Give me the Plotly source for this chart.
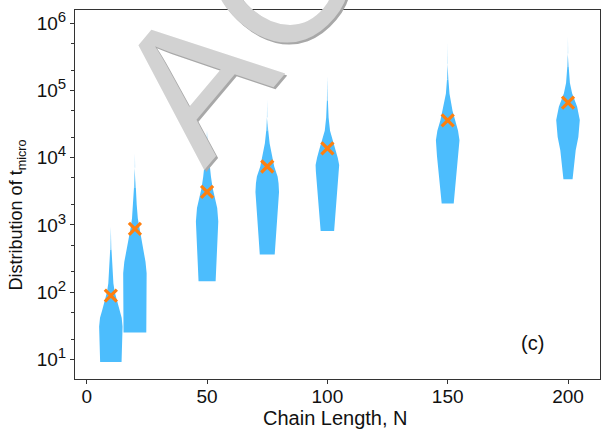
import plotly.graph_objects as go

# ---------------- data ----------------
chain_lengths = [10, 20, 50, 75, 100, 150, 200]
mean_values = [89, 870, 3100, 7400, 13800, 36000, 66000]

# violin outlines: log10(t) levels and half-widths (x units)
profile_logs = [
    [0.96, 1.49, 1.62, 1.73, 1.88, 2.0, 2.13, 2.33, 2.63, 2.97],
    [1.40, 1.8, 2.28, 2.45, 2.6, 2.75, 2.95, 3.1, 3.3, 3.55, 3.85, 4.07],
    [2.16, 2.6, 2.85, 3.05, 3.25, 3.4, 3.55, 3.72, 3.92, 4.11, 4.4],
    [2.56, 2.82, 3.07, 3.3, 3.49, 3.62, 3.72, 3.87, 4.07, 4.21, 4.41, 4.6, 4.86],
    [2.91, 3.42, 3.8, 3.89, 4.0, 4.12, 4.26, 4.4, 4.6, 4.85, 5.2],
    [3.32, 3.77, 4.02, 4.26, 4.4, 4.56, 4.7, 4.82, 4.95, 5.16, 5.4, 5.7],
    [3.68, 4.11, 4.31, 4.56, 4.76, 4.86, 4.96, 5.11, 5.35, 5.55, 5.8],
]
profile_halfwidths = [
    [4.45, 4.87, 4.5, 3.6, 2.4, 1.6, 1.05, 0.63, 0.28, 0.0],
    [4.73, 4.85, 4.87, 4.4, 3.7, 2.9, 1.8, 1.2, 0.75, 0.4, 0.15, 0.0],
    [3.55, 4.0, 4.4, 4.65, 4.2, 3.3, 2.3, 1.6, 0.9, 0.45, 0.0],
    [3.1, 3.6, 4.2, 4.6, 4.9, 4.7, 4.3, 2.9, 1.7, 1.0, 0.4, 0.15, 0.0],
    [2.8, 4.0, 4.8, 4.9, 4.3, 3.4, 2.1, 1.1, 0.5, 0.2, 0.0],
    [2.5, 3.75, 4.45, 4.9, 4.3, 3.0, 2.0, 1.4, 0.75, 0.3, 0.12, 0.0],
    [1.9, 3.2, 4.3, 4.9, 3.8, 2.7, 1.7, 0.8, 0.3, 0.12, 0.0],
]

x_ticks = [0, 50, 100, 150, 200]
y_tick_exponents = [1, 2, 3, 4, 5, 6]

# ---------------- style ----------------
VIOLIN_RGB = (76, 189, 253)
MARK_COLOR = "#FF7F0E"
FONT = "Liberation Sans, Arial, sans-serif"
WM_FONT = "Liberation Sans Narrow, Liberation Sans, Arial, sans-serif"
FS = 19

fig = go.Figure()


def rgba(a):
    return "rgba(%d,%d,%d,%.3f)" % (VIOLIN_RGB + (a,))


for xc, logs, hws in zip(chain_lengths, profile_logs, profile_halfwidths):
    k = next(i for i, h in enumerate(hws) if h < 0.5)
    body_l, body_h = logs[: k + 1], hws[: k + 1]
    xs = [xc + h for h in body_h] + [xc - h for h in reversed(body_h)]
    ys = [10 ** l for l in body_l] + [10 ** l for l in reversed(body_l)]
    fig.add_trace(go.Scatter(x=xs, y=ys, fill="toself", mode="lines",
                             line=dict(width=0), fillcolor=rgba(1.0),
                             hoverinfo="skip", showlegend=False))
    fade0, top = logs[k], logs[-1]
    for i in range(k, len(logs) - 1):
        l0, l1 = logs[i], logs[i + 1]
        h0, h1 = hws[i], max(hws[i + 1], 0.04)
        mid = 0.5 * (l0 + l1)
        a = 1.0 - 0.85 * (mid - fade0) / (top - fade0)
        xs = [xc + h0, xc + h1, xc - h1, xc - h0]
        ys = [10 ** l0, 10 ** l1, 10 ** l1, 10 ** l0]
        fig.add_trace(go.Scatter(x=xs, y=ys, fill="toself", mode="lines",
                                 line=dict(width=0), fillcolor=rgba(a),
                                 hoverinfo="skip", showlegend=False))

fig.add_trace(go.Scatter(
    x=chain_lengths, y=mean_values, mode="markers",
    marker=dict(symbol="x-thin", size=12, line=dict(width=3.2, color=MARK_COLOR),
                color=MARK_COLOR),
    showlegend=False, hoverinfo="skip"))

axis_common = dict(showline=True, mirror=True, linecolor="#333", linewidth=1,
                   ticks="outside", ticklen=4, tickcolor="#333", showgrid=False,
                   zeroline=False, tickfont=dict(size=FS, color="#111", family=FONT))

fig.update_layout(
    width=602, height=430,
    margin=dict(l=75, r=2, t=10, b=51),
    plot_bgcolor="white", paper_bgcolor="white",
    font=dict(family=FONT, size=FS, color="#111"),
    xaxis=dict(range=[-4.9, 213.3], tickvals=x_ticks, ticklabelstandoff=-4,
               **axis_common),
    yaxis=dict(type="log", range=[0.707, 6.198],
               tickvals=[10 ** e for e in y_tick_exponents],
               ticktext=["10<sup><span style='font-size:15px'>%d</span></sup>" % e
                         for e in y_tick_exponents],
               minor=dict(ticks="outside", ticklen=3, tickcolor="#333", showgrid=False),
               **axis_common),
)

# watermark (shadow + face)
for color, dx, dy in [("#a8a8a8", 2, -2), ("#d2d2d2", 0, 0)]:
    fig.add_annotation(text="AC", xref="paper", yref="paper", x=0.31, y=0.955,
                       xanchor="center", yanchor="middle",
                       showarrow=False, textangle=-50, xshift=dx, yshift=dy,
                       font=dict(size=190, color=color, family=WM_FONT))

# axis titles
fig.add_annotation(text="Chain Length, N", xref="paper", yref="paper",
                   x=0.497, y=-0.106, xanchor="center", yanchor="middle",
                   showarrow=False, font=dict(size=20, color="#111", family=FONT))
fig.add_annotation(text="Distribution of t<sub>micro</sub>", xref="paper", yref="paper",
                   x=-0.11, y=0.444, xanchor="center", yanchor="middle",
                   textangle=-90, showarrow=False,
                   font=dict(size=18, color="#111", family=FONT))

fig.add_annotation(text="(c)", xref="paper", yref="paper", x=0.872, y=0.098,
                   xanchor="center", yanchor="middle",
                   showarrow=False, font=dict(size=20, color="#111", family=FONT))

fig.write_html("out.html")
